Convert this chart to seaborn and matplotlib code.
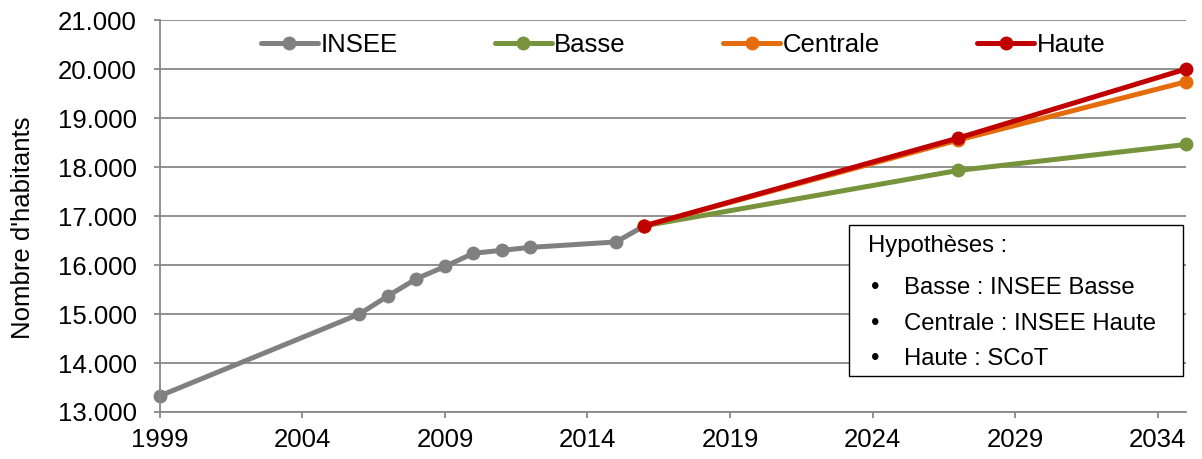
import matplotlib
matplotlib.use("Agg")
import matplotlib.pyplot as plt
import matplotlib.ticker as mticker
import pandas as pd
import seaborn as sns

insee_years = [1999, 2006, 2007, 2008, 2009, 2010, 2011, 2012, 2015, 2016]
insee_values = [13330, 15000, 15370, 15720, 15970, 16240, 16300, 16360, 16470, 16800]
proj_years = [2016, 2027, 2035]
basse_values = [16800, 17930, 18460]
centrale_values = [16800, 18550, 19740]
haute_values = [16800, 18590, 20000]

series = ["INSEE", "Basse", "Centrale", "Haute"]
colors = ["#808080", "#77933C", "#E46C0A", "#C00000"]
x_ticks = list(range(1999, 2035, 5))
y_ticks = list(range(13000, 21001, 1000))
notes = ["Basse : INSEE Basse", "Centrale : INSEE Haute", "Haute : SCoT"]

frames = [pd.DataFrame({"Année": insee_years, "Habitants": insee_values, "Série": "INSEE"})]
for name, vals in zip(series[1:], [basse_values, centrale_values, haute_values]):
    frames.append(pd.DataFrame({"Année": proj_years, "Habitants": vals, "Série": name}))
df = pd.concat(frames, ignore_index=True)

sns.set_style("white")
plt.rcParams["font.family"] = ["Liberation Sans", "DejaVu Sans"]
plt.rcParams["text.color"] = "black"

fs = 18.5
note_fs = 17.2
grid_c = "#888888"

fig = plt.figure(figsize=(12.02, 4.59), dpi=100)
ax = fig.add_axes([0.1331, 0.1024, 0.8536, 0.854])

sns.lineplot(data=df, x="Année", y="Habitants", hue="Série", hue_order=series,
             palette=colors, marker="o", markersize=10, markeredgewidth=0,
             linewidth=3.6, sort=False, ax=ax, clip_on=False)

ax.set_xlim(1999, 2035)
ax.set_ylim(13000, 21000)
ax.set_xticks(x_ticks)
ax.set_yticks(y_ticks)
ax.yaxis.set_major_formatter(mticker.FuncFormatter(lambda v, p: f"{v:,.0f}".replace(",", ".")))
ax.grid(axis="y", color=grid_c, linewidth=1.3)
ax.set_axisbelow(True)
for s in ["top", "right"]:
    ax.spines[s].set_visible(False)
for s in ["left", "bottom"]:
    ax.spines[s].set_color(grid_c)
    ax.spines[s].set_linewidth(1.3)
ax.tick_params(axis="both", direction="out", length=4.5, width=1.3, color=grid_c,
               labelsize=fs, labelcolor="black", bottom=True, left=True)
ax.tick_params(axis="x", pad=7)
ax.tick_params(axis="y", pad=12)
ax.set_xlabel("")
ax.set_ylabel("Nombre d'habitants", fontsize=fs, color="black")
ax.yaxis.set_label_coords(-0.122, 0.469)

ax.legend(loc="center", bbox_to_anchor=(0.51, 0.936), ncol=4, frameon=False,
          fontsize=fs, handlelength=2.2, handletextpad=0.1, columnspacing=3.8,
          markerscale=1.0)

# annotation box
box = plt.Rectangle((0.6715, 0.092), 0.3255, 0.385, transform=ax.transAxes,
                    facecolor="white", edgecolor="black", linewidth=1.0, zorder=5)
ax.add_patch(box)
ax.text(0.6905, 0.424, "Hypothèses :", transform=ax.transAxes, fontsize=note_fs,
        va="center", ha="left", zorder=6)
for i, note in enumerate(notes):
    y = 0.317 - i * 0.0915
    ax.text(0.6925, y, "•", transform=ax.transAxes, fontsize=note_fs, va="center", zorder=6)
    ax.text(0.7255, y, note, transform=ax.transAxes, fontsize=note_fs, va="center", zorder=6)

fig.savefig("out.png", dpi=100)
